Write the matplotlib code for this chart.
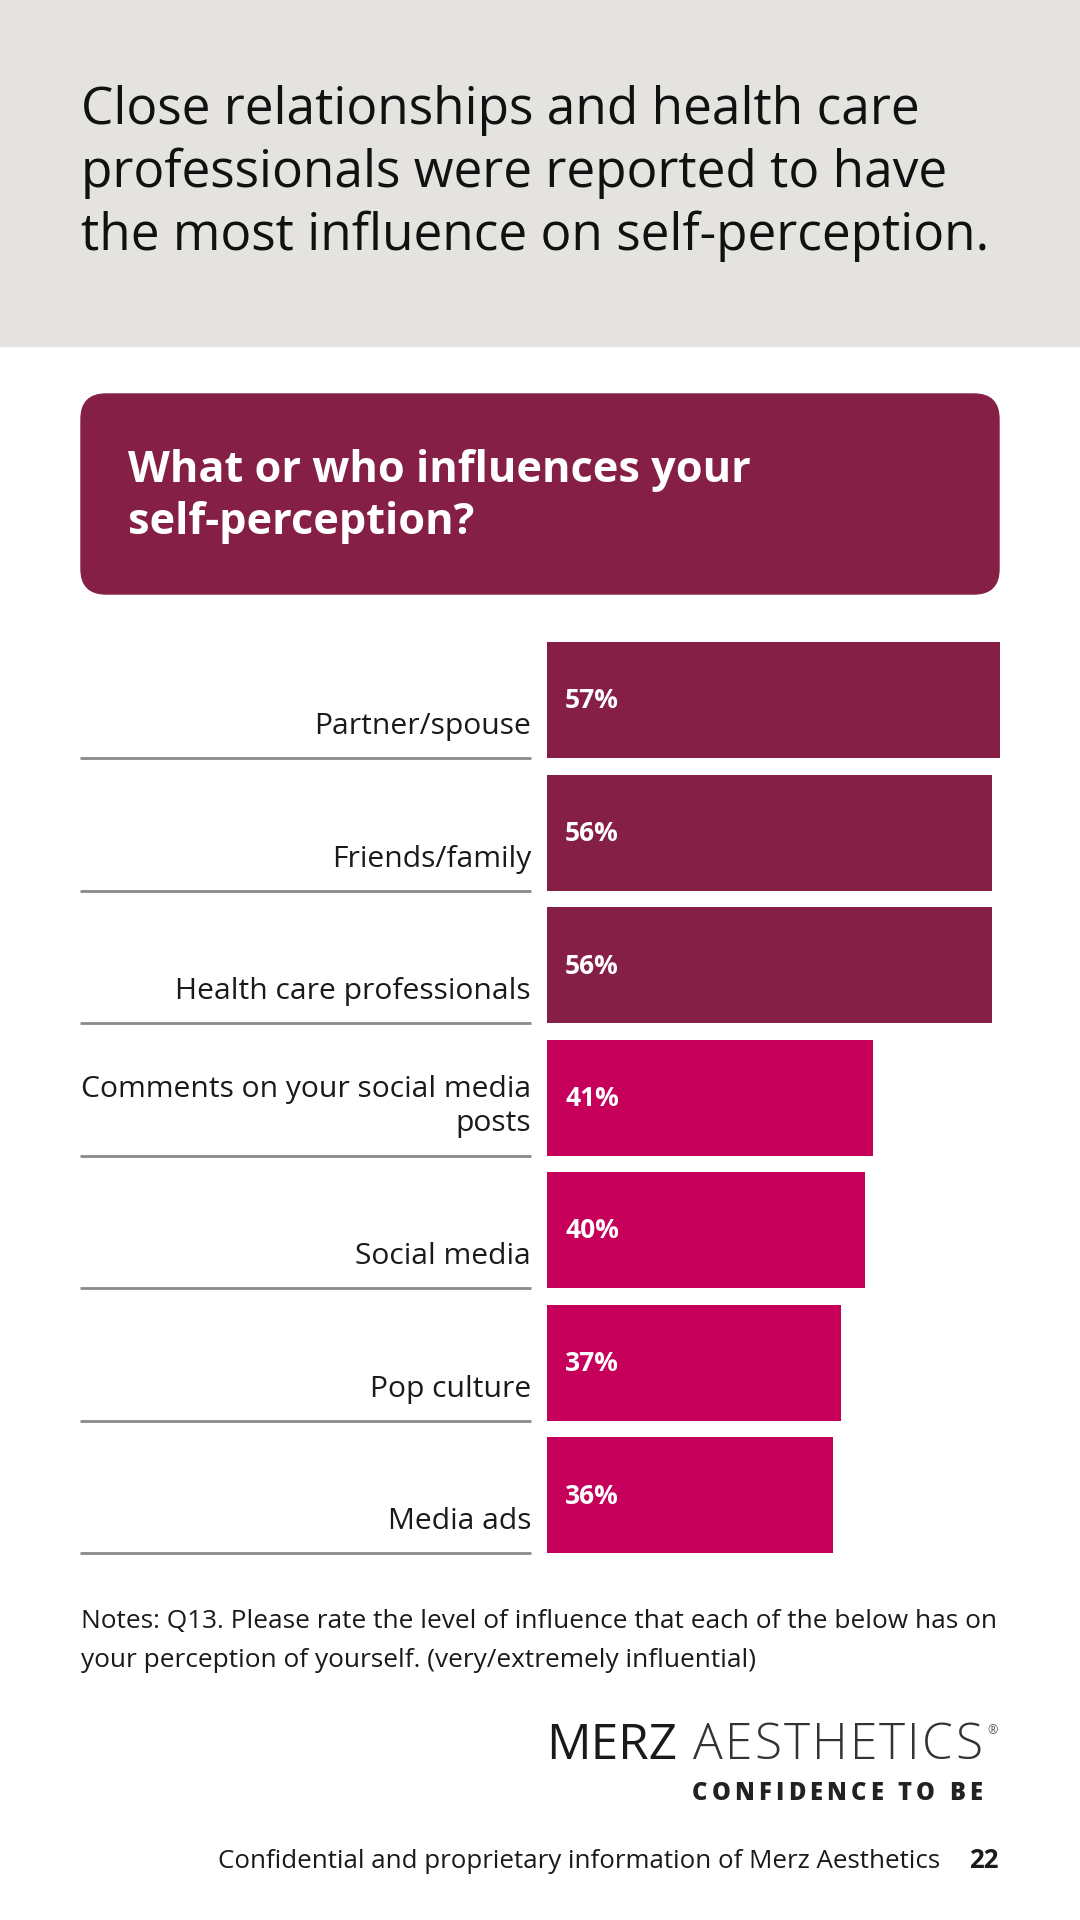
import numpy as np
import matplotlib.pyplot as plt
from matplotlib.patches import Rectangle, FancyBboxPatch
from matplotlib.transforms import blended_transform_factory

plt.rcParams['font.family'] = ['Open Sans', 'DejaVu Sans']

# dados do gráfico
categories = ["Partner/spouse", "Friends/family", "Health care professionals",
              "Comments on your social media\nposts", "Social media",
              "Pop culture", "Media ads"]
values = [57, 56, 56, 41, 40, 37, 36]
groups = ["close", "close", "close", "media", "media", "media", "media"]

title_lines = ["Close relationships and health care",
               "professionals were reported to have",
               "the most influence on self-perception."]
question_lines = ["What or who influences your", "self-perception?"]
notes_lines = ["Notes: Q13. Please rate the level of influence that each of the below has on",
               "your perception of yourself. (very/extremely influential)"]
footer = "Confidential and proprietary information of Merz Aesthetics"
page = "22"

MAROON = "#861F45"
MAGENTA = "#C6005A"
colors = {"close": MAROON, "media": MAGENTA}

W, H = 1080, 1920
fig = plt.figure(figsize=(W / 100, H / 100), dpi=100)
renderer = fig.canvas.get_renderer()


def width_px(t):
    return t.get_window_extent(renderer).width


def fit(texts, ref, target):
    # ajusta o tamanho da fonte para a largura medida no original
    size = ref.get_fontsize() * target / width_px(ref)
    for t in texts:
        t.set_fontsize(size)


def spaced(axis, x0, x1, y, s, **kw):
    # letras espaçadas entre x0 e x1 (px)
    chars = [axis.text(0, y, c, va="baseline", ha="left", **kw) for c in s]
    widths = [width_px(c) for c in chars]
    gap = (x1 - x0 - sum(widths)) / (len(s) - 1)
    x = x0
    for c, w in zip(chars, widths):
        c.set_x(x)
        x += w + gap
    return chars


# fundo / decoração em pixels
bg = fig.add_axes([0, 0, 1, 1])
bg.set_xlim(0, W)
bg.set_ylim(H, 0)
bg.axis("off")

bg.add_patch(Rectangle((0, 0), W, 346, color="#E4E3E0", zorder=0))
tt = [bg.text(81, 124 + k * 63, line, fontsize=30, color="#111111",
              va="baseline", ha="left") for k, line in enumerate(title_lines)]
fit(tt, tt[0], 838)

bg.add_patch(FancyBboxPatch((81 + 25, 394 + 25), 918 - 50, 200 - 50,
                            boxstyle="round,pad=25", color=MAROON, zorder=1))
qt = [bg.text(128, 482 + k * 52, line, fontsize=28, fontweight="bold",
              color="white", va="baseline", ha="left", zorder=2)
      for k, line in enumerate(question_lines)]
fit(qt, qt[0], 620)

nt = [bg.text(81, 1628 + k * 39, line, fontsize=16, color="#1a1a1a",
              va="baseline", ha="left") for k, line in enumerate(notes_lines)]
fit(nt, nt[0], 915)

# logo
merz = bg.text(546, 1759, "MERZ", fontsize=37, color="#1a1a1a",
               va="baseline", ha="left")
fit([merz], merz, 131)
spaced(bg, 693, 982, 1759, "AESTHETICS", fontsize=merz.get_fontsize(),
       fontweight="light", color="#333333")
bg.text(987, 1731, "®", fontsize=9, color="#555555", va="center", ha="left")
spaced(bg, 692, 982, 1800, "CONFIDENCE TO BE", fontsize=17,
       fontweight="heavy", color="#222222")

ft = bg.text(940, 1868, footer, fontsize=17, color="#1a1a1a",
             va="baseline", ha="right")
fit([ft], ft, 721)
bg.text(999, 1868, page, fontsize=ft.get_fontsize(), fontweight="bold",
        color="#1a1a1a", va="baseline", ha="right")

# barras
px_per_pct = (1000 - 547) / 57
pitch = 132.5
n = len(values)
ax_w = 60 * px_per_pct
ax_top = 700 - pitch / 2
ax_h = n * pitch
ax = fig.add_axes([547 / W, 1 - (ax_top + ax_h) / H, ax_w / W, ax_h / H])
ax.set_xlim(0, 60)
ax.set_ylim(n - 0.5, -0.5)
ax.axis("off")

y = np.arange(n)
bar_h = 116 / pitch
ax.barh(y, values, height=bar_h, color=[colors[g] for g in groups], zorder=2)

pt = [ax.annotate(f"{v}%", xy=(0, i), xytext=(18, -1), textcoords="offset pixels",
                  fontsize=17, fontweight="bold", color="white",
                  va="center", ha="left", zorder=3)
      for i, v in enumerate(values)]
fit(pt, pt[0], 54)

trans = blended_transform_factory(ax.transAxes, ax.transData)
x_lab = (531 - 547) / ax_w
x_line0 = (80 - 547) / ax_w
ct = []
ref_label = None
for i, cat in enumerate(categories):
    bottom = i + bar_h / 2
    parts = cat.split("\n")
    for k, part in enumerate(parts):
        yy = bottom - (24 + (len(parts) - 1 - k) * 34) / pitch
        t = ax.text(x_lab, yy, part, transform=trans, fontsize=21, color="#1a1a1a",
                    ha="right", va="baseline", clip_on=False)
        ct.append(t)
        if part == "Health care professionals":
            ref_label = t
    ax.plot([x_line0, x_lab], [bottom, bottom], transform=trans, color="#8a8a8a",
            lw=2, clip_on=False, solid_capstyle="butt")
fit(ct, ref_label, 355)

fig.savefig("out.png", dpi=100)
